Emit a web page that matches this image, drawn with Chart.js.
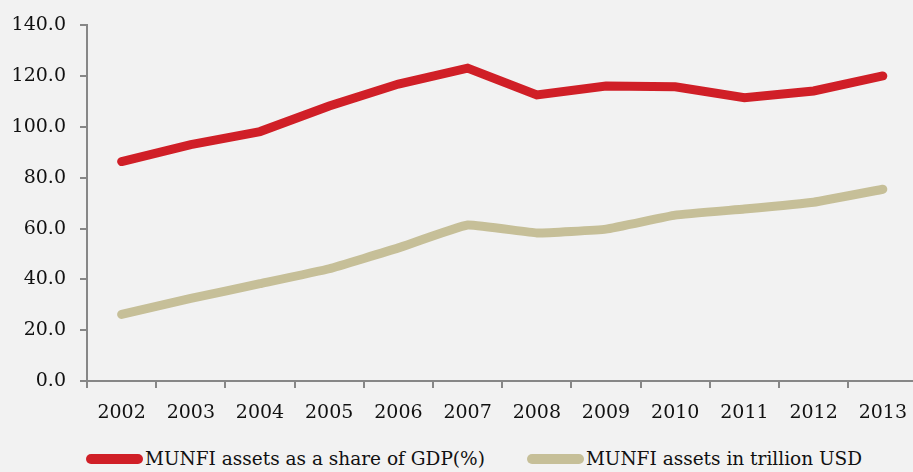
<!DOCTYPE html>
<html>
<head>
<meta charset="utf-8">
<script src="https://cdn.jsdelivr.net/npm/chart.js@4"></script>
<style>
html,body{margin:0;padding:0;background:#f2f2f2;overflow:hidden;}
#wrap{width:921px;height:440px;position:relative;}
#legend{position:absolute;left:86px;top:447px;display:flex;align-items:center;gap:42px;
  font-family:'DejaVu Serif',serif;font-size:18.5px;color:#111;white-space:nowrap;line-height:24px;}
.item{display:flex;align-items:center;gap:2px;}
.sw{width:57px;height:10px;border-radius:5px;}
</style>
</head>
<body>
<div id="wrap"><canvas id="c"></canvas></div>
<div id="legend"></div>
<script>
const years = ['2002','2003','2004','2005','2006','2007','2008','2009','2010','2011','2012','2013'];
const shareOfGDP = [86.4, 93.1, 98.2, 108.3, 116.9, 123.2, 112.6, 116.1, 115.8, 111.5, 114.2, 120.1];
const trillionUSD = [26.2, 32.5, 38.3, 44.2, 52.4, 61.4, 58.3, 59.8, 65.3, 67.7, 70.4, 75.5];
const seriesNames = ['MUNFI assets as a share of GDP(%)', 'MUNFI assets in trillion USD'];
const seriesColors = ['#d01f27', '#c6bf98'];

const AXIS = '#878787';
const FONT = "'DejaVu Serif', serif";

const chart = new Chart(document.getElementById('c'), {
  type: 'line',
  data: {
    labels: years,
    datasets: [
      {label: seriesNames[0], data: shareOfGDP, borderColor: seriesColors[0], backgroundColor: seriesColors[0],
       borderWidth: 9, pointRadius: 0, tension: 0, borderCapStyle: 'round', borderJoinStyle: 'miter'},
      {label: seriesNames[1], data: trillionUSD, borderColor: seriesColors[1], backgroundColor: seriesColors[1],
       borderWidth: 9, pointRadius: 0, tension: 0.1, borderCapStyle: 'round', borderJoinStyle: 'round'}
    ]
  },
  options: {
    responsive: true, maintainAspectRatio: false, animation: false,
    layout: {padding: {left: 8, right: 0, top: 8, bottom: 0}},
    plugins: {
      tooltip: {enabled: false},
      legend: {display: false}
    },
    scales: {
      x: {
        offset: true,
        grid: {offset: true, drawOnChartArea: false, drawTicks: true, tickLength: 7, color: AXIS, lineWidth: 2},
        border: {color: AXIS, width: 2},
        ticks: {font: {family: FONT, size: 19}, color: '#111', padding: 14, maxRotation: 0},
        afterFit: s => { s.height = 59; }
      },
      y: {
        min: 0, max: 140,
        grid: {drawOnChartArea: false, drawTicks: true, tickLength: 7, color: AXIS, lineWidth: 2},
        border: {color: AXIS, width: 2},
        ticks: {stepSize: 20, font: {family: FONT, size: 19}, color: '#111', padding: 14,
                callback: v => Number(v).toFixed(1)},
        afterFit: s => { s.width = 79; }
      }
    }
  }
});

// HTML legend built from the chart's datasets
const lg = document.getElementById('legend');
chart.data.datasets.forEach(ds => {
  const it = document.createElement('div'); it.className = 'item';
  const sw = document.createElement('span'); sw.className = 'sw'; sw.style.background = ds.borderColor;
  const tx = document.createElement('span'); tx.textContent = ds.label;
  it.appendChild(sw); it.appendChild(tx); lg.appendChild(it);
});
</script>
</body>
</html>
